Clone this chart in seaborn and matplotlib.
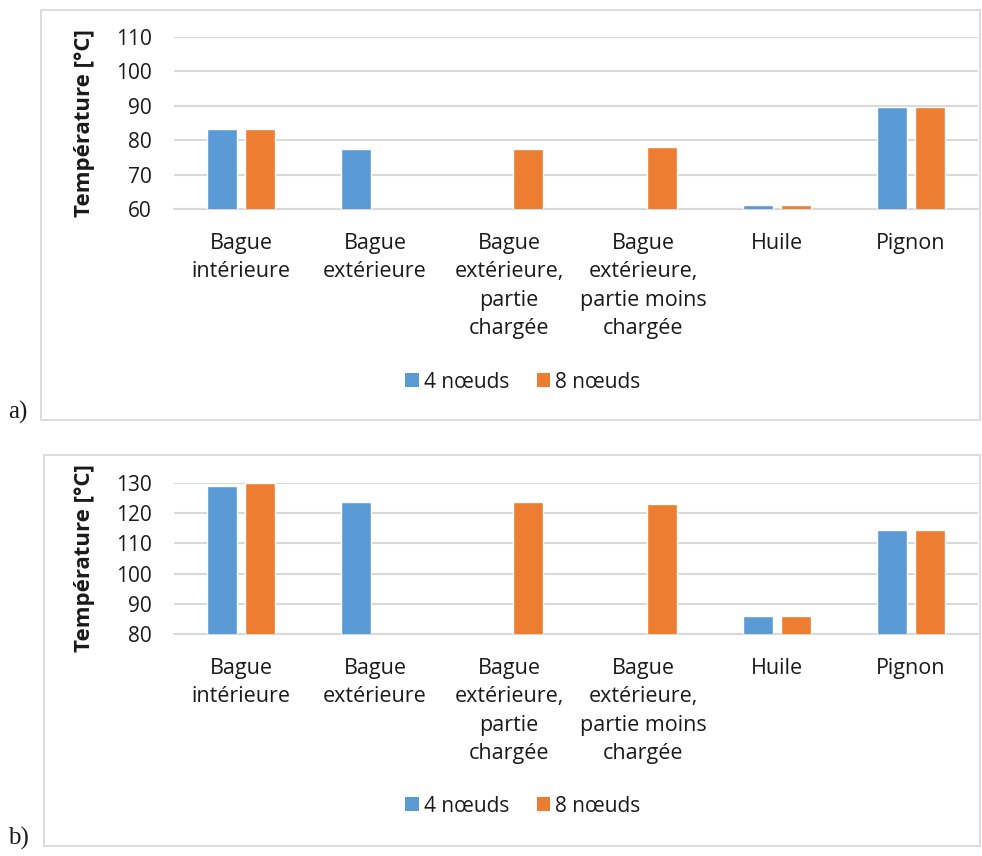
import numpy as np
import pandas as pd
import matplotlib
matplotlib.use("Agg")
import matplotlib.pyplot as plt
from matplotlib.patches import Patch, Rectangle
import seaborn as sns

# Data
categories = [
    "Bague\nintérieure",
    "Bague\nextérieure",
    "Bague\nextérieure,\npartie\nchargée",
    "Bague\nextérieure,\npartie moins\nchargée",
    "Huile",
    "Pignon",
]
series = ["4 nœuds", "8 nœuds"]
temp_a_4 = [83.2, 77.3, np.nan, np.nan, 61.2, 89.6]
temp_a_8 = [83.4, np.nan, 77.3, 77.9, 61.1, 89.6]
temp_b_4 = [129.1, 123.6, np.nan, np.nan, 86.1, 114.6]
temp_b_8 = [130.0, np.nan, 123.8, 123.2, 86.1, 114.6]
ylims = [(60, 110), (80, 130)]
panel_labels = ["a)", "b)"]

colors = {"4 nœuds": "#5B9BD5", "8 nœuds": "#ED7D31"}
grid_color = "#D9D9D9"
text_color = "#1a1a1a"


def long_table(v4, v8):
    rows = []
    for cat, a, b in zip(categories, v4, v8):
        if not np.isnan(a):
            rows.append((cat, series[0], a))
        if not np.isnan(b):
            rows.append((cat, series[1], b))
    return pd.DataFrame(rows, columns=["categorie", "serie", "temperature"])


sns.set_theme(style="white")
plt.rcParams["font.family"] = ["Open Sans", "DejaVu Sans"]

W, H = 982, 856
fig = plt.figure(figsize=(W / 100, H / 100), dpi=100)


def fx(px):
    return px / W


def fy(py):
    return 1 - py / H


# Panel frames (pixel boxes: left, top, right, bottom)
frames = [(41, 10, 980, 420), (44, 455, 980, 846)]
for (l, t, r, b) in frames:
    fig.patches.append(Rectangle((fx(l), fy(b)), fx(r) - fx(l), fy(t) - fy(b),
                                 transform=fig.transFigure, fill=False,
                                 edgecolor=grid_color, linewidth=1.3))

# Plot areas (pixel: left, top, right, bottom)
areas = [(174, 37, 978, 209), (174, 483, 978, 634)]
legend_y = [382, 806]
label_y = [412, 838]
tables = [long_table(temp_a_4, temp_a_8), long_table(temp_b_4, temp_b_8)]

for i, (l, t, r, b) in enumerate(areas):
    ax = fig.add_axes([fx(l), fy(b), fx(r) - fx(l), fy(t) - fy(b)])
    sns.barplot(data=tables[i], x="categorie", y="temperature", hue="serie",
                order=categories, hue_order=series, palette=colors,
                width=0.566, gap=0.22, errorbar=None, legend=False,
                saturation=1, ax=ax, zorder=3)
    ax.set_ylim(*ylims[i])
    ax.set_xlim(-0.5, len(categories) - 0.5)
    lo, hi = ylims[i]
    ax.set_yticks(np.arange(lo, hi + 1, 10))
    ax.yaxis.grid(True, color=grid_color, linewidth=1.5, zorder=0)
    ax.set_axisbelow(True)
    for side in ["top", "right", "left"]:
        ax.spines[side].set_visible(False)
    ax.spines["bottom"].set_color(grid_color)
    ax.spines["bottom"].set_linewidth(1.5)
    ax.tick_params(axis="y", length=0, pad=16, labelsize=15, labelcolor=text_color)
    ax.tick_params(axis="x", length=0, pad=17, labelsize=15.5, labelcolor=text_color)
    for lab in ax.get_xticklabels():
        lab.set_linespacing(1.47)
        lab.set_horizontalalignment("center")
    ax.set_xlabel("")
    ax.set_ylabel("Température [°C]", fontsize=16, fontweight="bold",
                  color=text_color)
    ax.yaxis.set_label_coords((95 - l) / (r - l), 0.5)

    handles = [Patch(facecolor=colors[s], edgecolor="none", label=s) for s in series]
    fig.legend(handles=handles, loc="center", ncol=2, frameon=False,
               bbox_to_anchor=(fx(523), fy(legend_y[i])), fontsize=15,
               handlelength=0.65, handleheight=0.65, handletextpad=0.25,
               columnspacing=1.3, labelcolor=text_color)

    fig.text(fx(8), fy(label_y[i]), panel_labels[i], ha="left", va="center",
             fontsize=18, family=["Liberation Serif", "DejaVu Serif"],
             color=text_color)

fig.savefig("out.png", dpi=100, facecolor="white")
